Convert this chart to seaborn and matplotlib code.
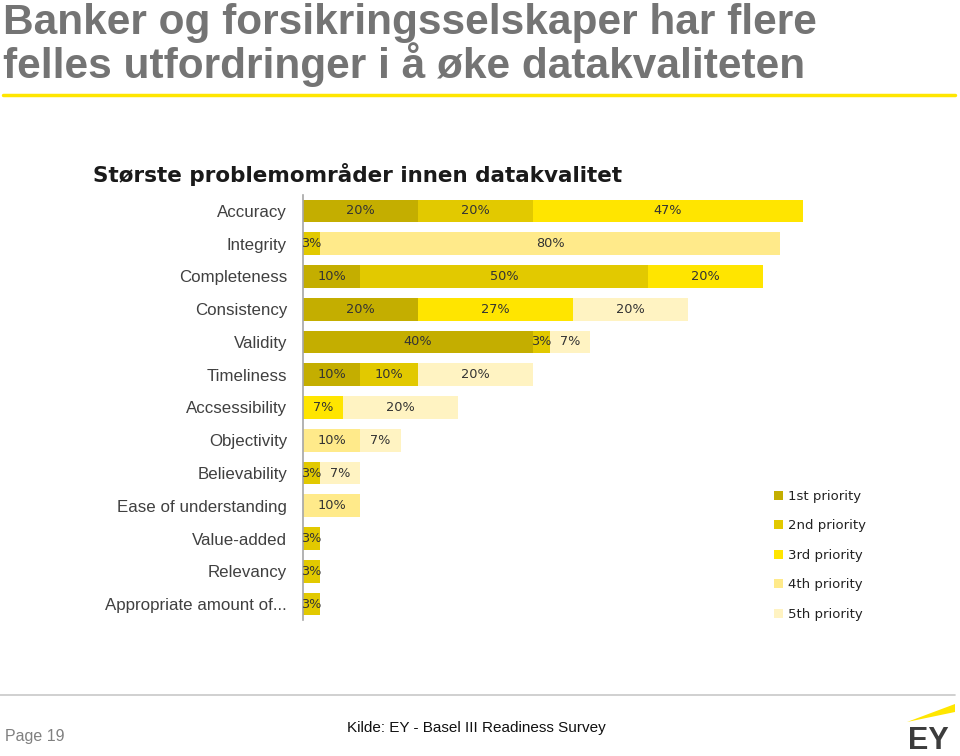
import numpy as np
import pandas as pd
import matplotlib
matplotlib.use('Agg')
import matplotlib.pyplot as plt
import seaborn as sns
from matplotlib.patches import Patch, Polygon
from matplotlib.lines import Line2D

# Data
categories = ['Accuracy', 'Integrity', 'Completeness', 'Consistency', 'Validity',
              'Timeliness', 'Accsessibility', 'Objectivity', 'Believability',
              'Ease of understanding', 'Value-added', 'Relevancy',
              'Appropriate amount of...']
first = [20, 0, 10, 20, 40, 10, 0, 0, 0, 0, 0, 0, 0]
second = [20, 3, 50, 0, 3, 10, 0, 0, 3, 0, 3, 3, 3]
third = [47, 0, 20, 27, 0, 0, 7, 0, 0, 0, 0, 0, 0]
fourth = [0, 80, 0, 0, 0, 0, 0, 10, 0, 10, 0, 0, 0]
fifth = [0, 0, 0, 20, 7, 20, 20, 7, 7, 0, 0, 0, 0]
priorities = ['1st priority', '2nd priority', '3rd priority', '4th priority', '5th priority']
colors = ['#C4AE00', '#E2C900', '#FFE500', '#FFEA8A', '#FFF3C2']

sns.set_style('white')
plt.rcParams['font.family'] = ['Liberation Sans', 'DejaVu Sans']

df = pd.DataFrame({'category': categories, '1st priority': first, '2nd priority': second,
                   '3rd priority': third, '4th priority': fourth, '5th priority': fifth})
cum = df[priorities].cumsum(axis=1)

fig = plt.figure(figsize=(9.6, 7.56), dpi=100)
ax = fig.add_axes([303 / 960, 1 - 620.4 / 756, 517 / 960, 425.8 / 756])

# stacked bars: draw cumulative totals from longest to shortest
for k in range(len(priorities) - 1, -1, -1):
    layer = pd.DataFrame({'category': categories, 'value': cum[priorities[k]]})
    sns.barplot(data=layer, x='value', y='category', order=categories, orient='h',
                color=colors[k], saturation=1, width=0.7, linewidth=0, ax=ax)

# segment labels
for i, cat in enumerate(categories):
    left = 0
    for p in priorities:
        v = df.loc[i, p]
        if v > 0:
            ax.text(left + v / 2, i, f'{v}%', ha='center', va='center', fontsize=9.3,
                    color='#333333', family='DejaVu Sans')
        left += v

ax.set_xlim(0, 90)
ax.set_ylim(12.5, -0.5)
ax.set_xlabel('')
ax.set_ylabel('')
ax.set_xticks([])
ax.tick_params(axis='y', length=0, pad=11.5, labelsize=12.2, labelcolor='#404040')
for s in ['top', 'right', 'bottom']:
    ax.spines[s].set_visible(False)
ax.spines['left'].set_color('#A6A6A6')
ax.spines['left'].set_linewidth(1.2)

handles = [Patch(facecolor=c, edgecolor='none', label=l) for c, l in zip(colors, priorities)]
fig.legend(handles=handles, loc='upper left', bbox_to_anchor=(762 / 960, 1 - 478 / 756),
           frameon=False, handlelength=0.7, handleheight=0.7, handletextpad=0.35,
           labelspacing=1.25, prop={'family': 'DejaVu Sans', 'size': 9.5},
           labelcolor='#222222')

# titles
fig.text(3 / 960, 1 - 23 / 756, 'Banker og forsikringsselskaper har flere', fontsize=30.5,
         fontweight='bold', color='#747474', va='center', ha='left')
fig.text(3 / 960, 1 - 65 / 756, 'felles utfordringer i å øke datakvaliteten', fontsize=30.5,
         fontweight='bold', color='#747474', va='center', ha='left')
fig.add_artist(Line2D([3 / 960, 955 / 960], [1 - 95 / 756, 1 - 95 / 756],
                      color='#FFE600', linewidth=2.5))
fig.text(93 / 960, 1 - 174 / 756, 'Største problemområder innen datakvalitet', fontsize=15.5,
         fontweight='bold', color='#1A1A1A', va='center', ha='left', family='DejaVu Sans')

# footer
fig.add_artist(Line2D([0, 955 / 960], [1 - 695 / 756, 1 - 695 / 756],
                      color='#C8C8C8', linewidth=1.2))
fig.text(5 / 960, 1 - 737 / 756, 'Page 19', fontsize=11.5, color='#808080', va='center')
fig.text(476 / 960, 1 - 728 / 756, 'Kilde: EY - Basel III Readiness Survey', fontsize=11,
         color='#111111', va='center', ha='center')
fig.text(928 / 960, 1 - 741 / 756, 'EY', fontsize=22, fontweight='bold', color='#3C3C3C',
         va='center', ha='center')
fig.add_artist(Polygon([[907 / 960, 1 - 722 / 756], [955 / 960, 1 - 704 / 756],
                        [955 / 960, 1 - 712 / 756]], closed=True, facecolor='#FFE600',
                       edgecolor='none', transform=fig.transFigure))

fig.savefig('out.png', dpi=100)
